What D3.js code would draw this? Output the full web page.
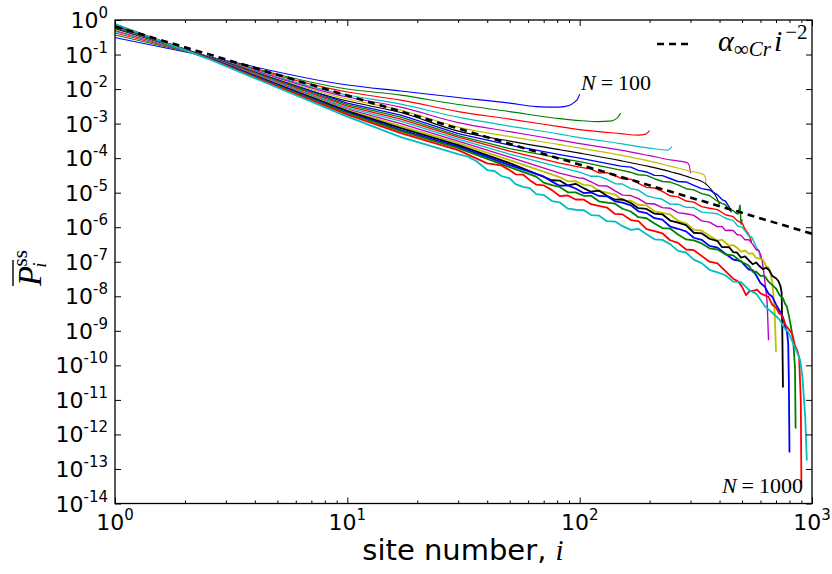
<!DOCTYPE html>
<html>
<head>
<meta charset="utf-8">
<script src="https://cdn.jsdelivr.net/npm/d3@7"></script>
<style>
  body { margin: 0; background: #fff; }
  text { font-family: "DejaVu Sans", sans-serif; }
  .math { font-family: "Liberation Serif", serif; }
</style>
</head>
<body>
<svg id="chart" width="832" height="574"></svg>
<script>
// Chain lengths N; one steady-state occupation profile per chain.
const chainSizes = [100, 150, 200, 250, 300, 350, 400, 450, 500, 550, 600, 650, 700, 750, 800, 850, 900, 950];
// Classic colour cycle b, g, r, c, m, y, k.
const lineColors = ["#0000ff", "#008000", "#ff0000", "#00bfbf", "#bf00bf", "#bfbf00", "#000000"];

// Profiles as [site i, log10 P_i^ss].
const profile100 = [[1,-0.507],[2.5,-1.058],[10,-1.884],[17,-2.058],[30,-2.246],[50,-2.406],[65,-2.507],[82,-2.522],[90,-2.478],[95,-2.377],[98,-2.29],[100,-2.145]];
const profile150 = [[1,-0.435],[2.5,-1.058],[10,-2.0],[17,-2.174],[30,-2.449],[50,-2.652],[82,-2.855],[100,-2.913],[120,-2.942],[135,-2.928],[145,-2.84],[150,-2.696]];
const profile200 = [[1,-0.377],[2.5,-1.058],[10,-2.087],[17,-2.319],[30,-2.652],[50,-2.87],[82,-3.087],[100,-3.174],[150,-3.29],[180,-3.333],[192,-3.304],[200,-3.203]];
const profile250 = [[1,-0.333],[2.5,-1.058],[10,-2.174],[17,-2.435],[30,-2.812],[50,-3.072],[82,-3.304],[100,-3.406],[150,-3.58],[200,-3.71],[240,-3.768],[246,-3.71],[250,-3.667]];
const profile300 = [[1,-0.304],[2.5,-1.058],[10,-2.232],[17,-2.522],[30,-2.971],[50,-3.232],[82,-3.478],[100,-3.58],[150,-3.768],[200,-3.928],[250,-4.058],[290,-4.13],[296,-4.203],[300,-4.435]];
const profile350 = [[1,-0.275],[2.5,-1.058],[10,-2.29],[17,-2.609],[30,-3.101],[50,-3.377],[82,-3.609],[100,-3.71],[150,-3.913],[200,-4.087],[250,-4.246],[300,-4.377],[340,-4.464],[347,-4.551],[350,-4.783]];
const profile400 = [[1,-0.246],[2.5,-1.058],[10,-2.348],[17,-2.681],[30,-3.217],[50,-3.507],[82,-3.754],[100,-3.855],[150,-4.072],[200,-4.246],[250,-4.406],[300,-4.565],[350,-4.754],[370,-4.928],[390,-5.159],[400,-5.333]];
const profile450 = [[1,-0.232],[2.5,-1.058],[10,-2.406],[17,-2.754],[30,-3.29],[50,-3.623],[82,-3.899],[100,-4.0],[150,-4.232],[166,-4.26],[179,-4.355],[194,-4.40],[210,-4.50],[227,-4.506],[245,-4.59],[265,-4.676],[287,-4.69],[310,-4.786],[335,-4.882],[362,-4.922],[392,-5.064],[410,-5.20],[424,-5.245],[440,-5.41],[450,-5.565]];
const profile500 = [[1,-0.217],[2.5,-1.058],[10,-2.449],[17,-2.812],[30,-3.348],[50,-3.725],[82,-4.0],[100,-4.101],[150,-4.348],[166,-4.41],[179,-4.481],[194,-4.50],[210,-4.596],[227,-4.677],[245,-4.692],[265,-4.774],[287,-4.885],[310,-4.92],[335,-5.029],[362,-5.083],[392,-5.248],[410,-5.31],[424,-5.349],[440,-5.48],[458,-5.518],[470,-5.592],[480,-5.623],[490,-5.362],[495,-5.913],[500,-5.768]];
const profile550 = [[1,-0.203],[2.5,-1.072],[10,-2.493],[17,-2.87],[30,-3.391],[50,-3.797],[82,-4.145],[100,-4.261],[112,-4.318],[121,-4.43],[131,-4.418],[142,-4.51],[153,-4.598],[166,-4.61],[179,-4.728],[194,-4.846],[210,-4.866],[227,-4.962],[245,-5.09],[265,-5.12],[287,-5.242],[310,-5.274],[335,-5.404],[362,-5.45],[392,-5.492],[424,-5.64],[458,-5.694],[480,-5.826],[500,-5.87],[515,-6.062],[530,-6.174],[540,-6.276],[550,-6.435]];
const profile600 = [[1,-0.188],[2.5,-1.072],[10,-2.536],[17,-2.928],[30,-3.449],[50,-3.884],[82,-4.261],[100,-4.406],[112,-4.526],[121,-4.526],[131,-4.612],[142,-4.74],[153,-4.75],[166,-4.882],[179,-4.924],[194,-5.084],[210,-5.15],[227,-5.192],[245,-5.33],[265,-5.334],[287,-5.426],[310,-5.43],[335,-5.562],[362,-5.586],[392,-5.61],[424,-5.74],[458,-5.808],[480,-5.97],[500,-5.998],[520,-6.14],[535,-6.258],[550,-6.28],[565,-6.448],[580,-6.616],[590,-6.676],[600,-6.899]];
const profile650 = [[1,-0.174],[2.5,-1.072],[10,-2.58],[17,-3.0],[30,-3.507],[50,-3.971],[82,-4.435],[100,-4.58],[104,-4.584],[112,-4.69],[121,-4.802],[131,-4.805],[142,-4.949],[153,-5.07],[166,-5.083],[179,-5.171],[194,-5.315],[210,-5.328],[227,-5.433],[245,-5.45],[265,-5.577],[287,-5.61],[310,-5.658],[335,-5.815],[362,-5.852],[392,-5.988],[410,-5.975],[424,-6.096],[440,-6.086],[458,-6.095],[475,-6.212],[495,-6.237],[515,-6.365],[535,-6.364],[555,-6.49],[575,-6.652],[590,-6.675],[600,-6.783],[610,-6.97],[620,-7.304],[630,-7.70],[640,-8.116],[645,-8.638],[650,-9.275]];
const profile700 = [[1,-0.159],[2.5,-1.087],[10,-2.609],[17,-3.072],[30,-3.565],[50,-4.058],[82,-4.551],[89,-4.67],[96,-4.665],[104,-4.775],[112,-4.795],[121,-4.95],[131,-5.00],[142,-5.055],[153,-5.22],[166,-5.23],[179,-5.35],[194,-5.37],[210,-5.54],[227,-5.585],[245,-5.63],[265,-5.815],[287,-5.885],[310,-6.07],[335,-6.10],[362,-6.25],[392,-6.385],[410,-6.36],[424,-6.45],[440,-6.535],[458,-6.52],[475,-6.59],[495,-6.71],[515,-6.675],[535,-6.765],[555,-6.755],[575,-6.89],[595,-6.91],[615,-6.945],[635,-7.13],[650,-7.159],[662,-7.33],[675,-7.594],[690,-8.406],[695,-8.986],[700,-9.623]];
const profile750 = [[1,-0.151],[2.5,-1.087],[10,-2.638],[17,-3.13],[30,-3.623],[50,-4.145],[76,-4.64],[82,-4.649],[89,-4.79],[96,-4.742],[104,-4.87],[112,-4.972],[121,-4.94],[131,-5.092],[142,-5.204],[153,-5.194],[166,-5.298],[179,-5.45],[194,-5.47],[210,-5.608],[227,-5.626],[245,-5.806],[265,-5.87],[287,-5.938],[310,-6.16],[335,-6.176],[362,-6.334],[392,-6.40],[410,-6.578],[424,-6.574],[440,-6.58],[458,-6.72],[475,-6.732],[495,-6.88],[515,-6.842],[535,-6.96],[555,-7.072],[575,-7.02],[595,-7.132],[615,-7.214],[635,-7.174],[655,-7.248],[675,-7.41],[700,-7.478],[715,-7.55],[730,-7.681],[740,-7.884],[745,-8.986],[750,-10.638]];
const profile800 = [[1,-0.145],[2.5,-1.087],[10,-2.667],[17,-3.188],[30,-3.667],[50,-4.203],[70,-4.53],[76,-4.68],[82,-4.799],[89,-4.79],[96,-4.88],[104,-5.01],[112,-4.995],[121,-5.095],[131,-5.105],[142,-5.25],[153,-5.29],[166,-5.365],[179,-5.54],[194,-5.59],[210,-5.74],[227,-5.78],[245,-5.98],[265,-6.045],[287,-6.12],[310,-6.305],[335,-6.365],[362,-6.54],[392,-6.59],[424,-6.77],[458,-6.935],[495,-6.98],[515,-7.11],[535,-7.225],[555,-7.24],[575,-7.39],[600,-7.615],[625,-7.715],[650,-7.928],[675,-8.015],[700,-8.233],[725,-8.42],[750,-8.603],[765,-8.88],[780,-9.014],[790,-9.362],[795,-10.435],[800,-12.522]];
const profile850 = [[1,-0.133],[2.5,-1.101],[10,-2.696],[17,-3.217],[30,-3.71],[50,-4.261],[65,-4.535],[70,-4.71],[76,-4.78],[82,-4.835],[89,-4.99],[96,-4.99],[104,-5.09],[112,-5.09],[121,-5.25],[131,-5.285],[142,-5.32],[153,-5.465],[166,-5.545],[179,-5.71],[194,-5.74],[210,-5.89],[227,-6.025],[245,-6.04],[265,-6.21],[287,-6.355],[310,-6.38],[335,-6.47],[362,-6.61],[392,-6.645],[424,-6.785],[458,-6.815],[495,-7.00],[515,-7.05],[535,-7.115],[555,-7.29],[575,-7.29],[600,-7.411],[625,-7.41],[650,-7.576],[675,-7.675],[700,-7.776],[725,-7.965],[750,-8.06],[765,-8.21],[780,-8.30],[795,-8.56],[810,-8.841],[830,-9.275],[845,-10.087],[850,-11.826]];
const profile900 = [[1,-0.125],[2.5,-1.101],[10,-2.739],[17,-3.275],[30,-3.768],[40,-4.15],[46,-4.21],[50,-4.348],[53,-4.469],[57,-4.475],[61,-4.637],[65,-4.766],[70,-4.787],[76,-4.926],[82,-5.098],[89,-5.082],[96,-5.197],[104,-5.20],[112,-5.333],[121,-5.38],[131,-5.431],[142,-5.615],[153,-5.628],[166,-5.792],[179,-5.825],[194,-6.054],[210,-6.114],[227,-6.175],[245,-6.378],[265,-6.453],[287,-6.645],[310,-6.666],[335,-6.83],[362,-6.999],[392,-7.045],[424,-7.271],[458,-7.49],[480,-7.567],[500,-7.728],[520,-7.968],[540,-7.842],[560,-7.843],[580,-7.81],[600,-7.917],[625,-7.97],[650,-8.019],[675,-8.245],[700,-8.328],[720,-8.486],[745,-8.565],[770,-8.834],[795,-8.954],[820,-9.075],[845,-9.428],[865,-9.583],[880,-9.768],[895,-11.014],[900,-13.42]];
const profile950 = [[1,-0.116],[2.5,-1.116],[10,-2.797],[17,-3.391],[30,-3.884],[33,-3.957],[36,-4.089],[40,-4.345],[43,-4.372],[46,-4.517],[50,-4.588],[53,-4.753],[57,-4.83],[61,-4.871],[65,-5.041],[70,-5.068],[76,-5.242],[82,-5.278],[89,-5.464],[96,-5.494],[104,-5.505],[112,-5.648],[121,-5.663],[131,-5.825],[142,-5.836],[153,-5.97],[166,-6.079],[179,-6.045],[194,-6.201],[210,-6.35],[227,-6.367],[245,-6.489],[265,-6.685],[287,-6.732],[310,-6.937],[335,-7.04],[362,-7.233],[392,-7.31],[424,-7.391],[458,-7.575],[495,-7.588],[535,-7.812],[579,-7.945],[626,-8.284],[677,-8.484],[725,-8.675],[760,-8.918],[791,-9.043],[830,-9.362],[860,-9.60],[890,-9.855],[910,-10.348],[935,-11.507],[950,-12.754]];

const profiles = [profile100, profile150, profile200, profile250, profile300, profile350, profile400,
  profile450, profile500, profile550, profile600, profile650, profile700, profile750,
  profile800, profile850, profile900, profile950];

// Asymptotic law alpha_{inf,Cr} * i^-2, drawn over the full site range.
const alphaCr = 0.65;
const refSites = [1, 1000];

// Tick exponents.
const xTickExps = [0, 1, 2, 3];
const yTickExps = [0, -1, -2, -3, -4, -5, -6, -7, -8, -9, -10, -11, -12, -13, -14];
const xMinorTicks = [2,3,4,5,6,7,8,9,20,30,40,50,60,70,80,90,200,300,400,500,600,700,800,900];

const svg = d3.select("#chart");
const plot = { left: 115, right: 812, top: 20, bottom: 503.5 };

const x = d3.scaleLog().domain([1, 1000]).range([plot.left, plot.right]);
const y = d3.scaleLog().domain([1e-14, 1]).range([plot.bottom, plot.top]);

svg.append("defs").append("clipPath").attr("id", "plot-clip")
  .append("rect")
  .attr("x", plot.left).attr("y", plot.top)
  .attr("width", plot.right - plot.left).attr("height", plot.bottom - plot.top);

// Short chains are smooth; long chains carry sampling noise, drawn point to point.
const smoothLine = d3.line()
  .x(d => x(d[0]))
  .y(d => y(Math.pow(10, d[1])))
  .curve(d3.curveMonotoneX);
const noisyLine = d3.line()
  .x(d => x(d[0]))
  .y(d => y(Math.pow(10, d[1])))
  .curve(d3.curveLinear);

const curves = svg.append("g").attr("clip-path", "url(#plot-clip)");
profiles.forEach((p, k) => {
  const n = chainSizes[k];
  curves.append("path")
    .datum(p)
    .attr("d", n >= 450 ? noisyLine : smoothLine)
    .attr("fill", "none")
    .attr("stroke", lineColors[k % lineColors.length])
    .attr("stroke-width", n >= 700 ? 1.8 : (n >= 450 ? 1.4 : 1.1))
    .attr("stroke-linejoin", "round");
});

// Reference power law
curves.append("path")
  .datum(refSites.map(s => [s, alphaCr * Math.pow(s, -2)]))
  .attr("d", d3.line().x(d => x(d[0])).y(d => y(d[1])))
  .attr("fill", "none")
  .attr("stroke", "#000")
  .attr("stroke-width", 2.6)
  .attr("stroke-dasharray", "7,5");

// Axes with inward ticks on all four sides.
const axes = svg.append("g");
axes.append("g").attr("transform", `translate(0,${plot.bottom})`)
  .call(d3.axisBottom(x).tickValues(xTickExps.map(e => Math.pow(10, e))).tickSize(-6).tickFormat(""));
axes.append("g").attr("transform", `translate(0,${plot.bottom})`)
  .call(d3.axisBottom(x).tickValues(xMinorTicks).tickSize(-3).tickFormat(""));
axes.append("g").attr("transform", `translate(0,${plot.top})`)
  .call(d3.axisTop(x).tickValues(xTickExps.map(e => Math.pow(10, e))).tickSize(-6).tickFormat(""));
axes.append("g").attr("transform", `translate(0,${plot.top})`)
  .call(d3.axisTop(x).tickValues(xMinorTicks).tickSize(-3).tickFormat(""));
axes.append("g").attr("transform", `translate(${plot.left},0)`)
  .call(d3.axisLeft(y).tickValues(yTickExps.map(e => Math.pow(10, e))).tickSize(-6).tickFormat(""));
axes.append("g").attr("transform", `translate(${plot.right},0)`)
  .call(d3.axisRight(y).tickValues(yTickExps.map(e => Math.pow(10, e))).tickSize(-6).tickFormat(""));
axes.selectAll(".domain").remove();
axes.selectAll(".tick line").attr("stroke", "#000").attr("stroke-width", 1);

svg.append("rect")
  .attr("x", plot.left).attr("y", plot.top)
  .attr("width", plot.right - plot.left).attr("height", plot.bottom - plot.top)
  .attr("fill", "none").attr("stroke", "#000").attr("stroke-width", 1.3);

// Power-of-ten tick labels
function powLabel(g, e, anchor) {
  const t = g.append("text").attr("text-anchor", anchor).attr("font-size", 22).attr("fill", "#000");
  t.append("tspan").text("10");
  t.append("tspan").attr("font-size", 15).attr("dy", -10).text(e < 0 ? "-" + (-e) : String(e));
  return t;
}
yTickExps.forEach(e => {
  const g = svg.append("g").attr("transform", `translate(108,${y(Math.pow(10, e)) + 8})`);
  powLabel(g, e, "end");
});
xTickExps.forEach(e => {
  const g = svg.append("g").attr("transform", `translate(${x(Math.pow(10, e))},530)`);
  powLabel(g, e, "middle");
});

// Axis titles
const xt = svg.append("text").attr("x", 463).attr("y", 560).attr("text-anchor", "middle")
  .attr("font-size", 29).attr("fill", "#000");
xt.append("tspan").text("site number, ");
xt.append("tspan").attr("class", "math").attr("font-style", "italic").text("i");

const yl = svg.append("g").attr("transform", "translate(41,262) rotate(-90)");
const ylt = yl.append("text").attr("class", "math").attr("x", -24).attr("y", 0).attr("fill", "#000");
ylt.append("tspan").attr("font-size", 33).attr("font-style", "italic").text("P");
ylt.append("tspan").attr("font-size", 19).attr("font-style", "italic").attr("dy", 5).attr("dx", -2).text("i");
ylt.append("tspan").attr("font-size", 21).attr("dy", -19).attr("dx", -4).text("ss");
yl.append("line").attr("x1", -24).attr("x2", 2).attr("y1", -28).attr("y2", -28)
  .attr("stroke", "#000").attr("stroke-width", 1.4);

// Curve annotations
svg.append("text").attr("class", "math").attr("x", 581).attr("y", 90).attr("font-size", 22)
  .html('<tspan font-style="italic">N</tspan><tspan dx="5">=</tspan><tspan dx="5">100</tspan>');
svg.append("text").attr("class", "math").attr("x", 803).attr("y", 493).attr("font-size", 22)
  .attr("text-anchor", "end")
  .html('<tspan font-style="italic">N</tspan><tspan dx="5">=</tspan><tspan dx="5">1000</tspan>');

// Legend
svg.append("line").attr("x1", 657).attr("x2", 690).attr("y1", 44).attr("y2", 44)
  .attr("stroke", "#000").attr("stroke-width", 2.6).attr("stroke-dasharray", "7,5");
const lg = svg.append("text").attr("class", "math").attr("x", 718).attr("y", 51).attr("fill", "#000");
lg.append("tspan").attr("font-size", 30).attr("font-style", "italic").text("α");
lg.append("tspan").attr("font-size", 21).attr("dy", 5).text("∞");
lg.append("tspan").attr("font-size", 21).attr("font-style", "italic").text("Cr");
lg.append("tspan").attr("font-size", 30).attr("font-style", "italic").attr("dy", -5).attr("dx", 3).text("i");
lg.append("tspan").attr("font-size", 21).attr("dy", -12).attr("dx", 3).text("−2");
</script>
</body>
</html>
